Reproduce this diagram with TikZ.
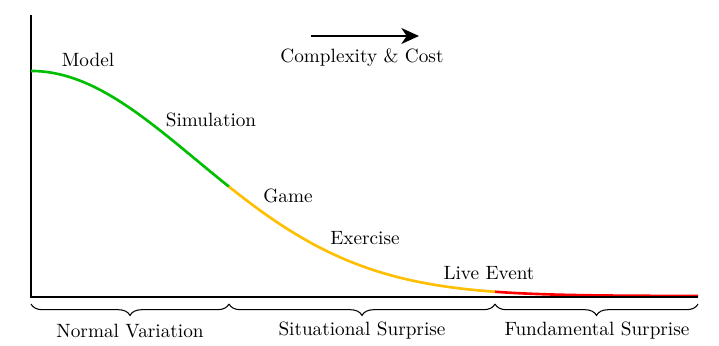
\documentclass[tikz,border=0pt]{standalone}
\usetikzlibrary{arrows.meta,decorations.pathreplacing}
\definecolor{cgreen}{RGB}{0,190,0}
\definecolor{cyellow}{RGB}{255,191,0}
\begin{document}
\begin{tikzpicture}[x=0.02cm,y=-0.02cm,
  axisline/.style={line width=0.9pt,black},
  curveline/.style={line width=1.5pt},
  bracedeco/.style={decorate,decoration={brace,mirror,amplitude=6.5pt},line width=0.6pt},
  lbl/.style={inner sep=0pt,font=\fontsize{10.95}{13}\selectfont}]
\useasboundingbox (0,0) rectangle (719,345);
% axes
\coordinate (top) at (31,15);
\coordinate (o) at (31,297);
\coordinate (xend) at (698,297);
\coordinate (b1) at (229,297);
\coordinate (b2) at (495,297);
% curve
\draw[curveline,red] plot[domain=464:667,samples=40] ({31+\x},{296-225*exp(-(\x/233)^2)});
\draw[axisline] (top) -- (o) -- (xend);
\draw[curveline,cgreen] plot[domain=0:198,samples=60] ({31+\x},{296-225*exp(-(\x/233)^2)});
\draw[curveline,cyellow] plot[domain=198:464,samples=60] ({31+\x},{296-225*exp(-(\x/233)^2)});
% labels on curve
\node[lbl] (model) at (88,60) {Model};
\node[lbl] (sim) at (211,120) {Simulation};
\node[lbl] (game) at (288,196) {Game};
\node[lbl] (ex) at (365,238) {Exercise};
\node[lbl] (live) at (489,273) {Live Event};
% complexity arrow
\coordinate (a1) at (311,36);
\coordinate (a2) at (419,36);
\draw[line width=1.7pt,-{Stealth[length=10pt,width=9pt,inset=3pt]}] (a1) -- (a2);
\node[lbl] (cc) at (362,58) {Complexity \& Cost};
% braces
\coordinate (c0) at (31,304);
\coordinate (c1) at (229,304);
\coordinate (c2) at (495,304);
\coordinate (c3) at (698,304);
\draw[bracedeco] (c0) -- (c1);
\draw[bracedeco] (c1) -- (c2);
\draw[bracedeco] (c2) -- (c3);
\node[lbl] (nv) at (130,331) {Normal Variation};
\node[lbl] (ss) at (362,331) {Situational Surprise};
\node[lbl] (fs) at (597,331) {Fundamental Surprise};
\end{tikzpicture}
\end{document}
